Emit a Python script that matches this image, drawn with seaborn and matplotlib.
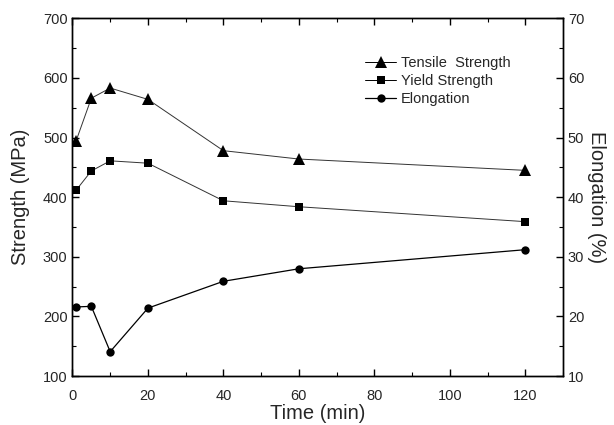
import pandas as pd
import seaborn as sns
import matplotlib.pyplot as plt
from matplotlib.ticker import MultipleLocator
from matplotlib.lines import Line2D

# datos
time_min = [1, 5, 10, 20, 40, 60, 120]
tensile = [495, 566, 583, 564, 478, 464, 445]
yield_s = [412, 444, 461, 457, 394, 384, 359]
elongation = [21.6, 21.7, 14.1, 21.4, 25.9, 28.0, 31.2]

df = pd.DataFrame({'Time': time_min, 'Tensile': tensile,
                   'Yield': yield_s, 'Elongation': elongation})

sns.set_theme(style="ticks")
plt.rcParams['font.family'] = ['Liberation Sans', 'DejaVu Sans']
plt.rcParams['xtick.direction'] = 'in'
plt.rcParams['ytick.direction'] = 'in'

fig = plt.figure(figsize=(6.14, 4.25), dpi=100)
ax = fig.add_axes([0.118, 0.115, 0.799, 0.842])
ax2 = ax.twinx()

sns.lineplot(data=df, x='Time', y='Tensile', ax=ax, color='#333333', lw=0.7,
             marker='^', markersize=8, markeredgewidth=0, markerfacecolor='black')
sns.lineplot(data=df, x='Time', y='Yield', ax=ax, color='#333333', lw=0.7,
             marker='s', markersize=5.5, markeredgewidth=0, markerfacecolor='black')
sns.lineplot(data=df, x='Time', y='Elongation', ax=ax2, color='black', lw=0.9,
             marker='o', markersize=6, markeredgewidth=0, markerfacecolor='black')

ax.set_xlim(0, 130)
ax.set_ylim(100, 700)
ax2.set_ylim(10, 70)

ax.xaxis.set_major_locator(MultipleLocator(20))
ax.xaxis.set_minor_locator(MultipleLocator(10))
ax.yaxis.set_major_locator(MultipleLocator(100))
ax.yaxis.set_minor_locator(MultipleLocator(50))
ax2.yaxis.set_major_locator(MultipleLocator(10))
ax2.yaxis.set_minor_locator(MultipleLocator(5))

for a in (ax, ax2):
    a.tick_params(which='major', length=5, width=1, labelsize=10.5, color='black')
    a.tick_params(which='minor', length=3, width=0.8, color='black')
    for s in a.spines.values():
        s.set_linewidth(1)
        s.set_color('black')
ax.tick_params(axis='x', which='both', top=True, pad=9)

ax.set_xlabel('Time (min)', fontsize=14.5, labelpad=1)
ax.set_ylabel('Strength (MPa)', fontsize=14.5, labelpad=9)
ax2.set_ylabel('Elongation (%)', fontsize=14.5, rotation=270, labelpad=16)

handles = [
    Line2D([], [], color='black', lw=0.7, marker='^', markersize=8, markeredgewidth=0),
    Line2D([], [], color='black', lw=0.7, marker='s', markersize=5.5, markeredgewidth=0),
    Line2D([], [], color='black', lw=0.9, marker='o', markersize=6, markeredgewidth=0),
]
ax.legend(handles, ['Tensile  Strength', 'Yield Strength', 'Elongation'],
          loc='upper left', bbox_to_anchor=(0.57, 0.93), frameon=False,
          fontsize=10.5, handlelength=2.1, handletextpad=0.35, labelspacing=0.25)

fig.savefig('out.png', dpi=100)
